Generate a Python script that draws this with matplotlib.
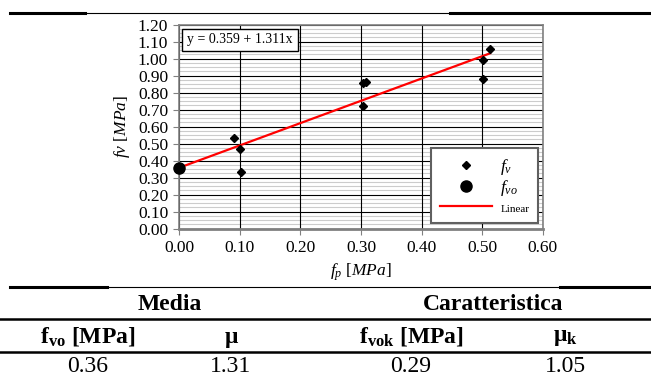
import numpy as np
import matplotlib
matplotlib.use("Agg")
import matplotlib.pyplot as plt
from matplotlib.lines import Line2D
from matplotlib.ticker import MultipleLocator

# data
fp = [0.091, 0.101, 0.102, 0.303, 0.308, 0.303, 0.502, 0.502, 0.513]
fv = [0.532, 0.469, 0.332, 0.855, 0.863, 0.722, 0.990, 0.882, 1.055]
fvo_x = [0.0]
fvo_y = [0.359]
intercept = 0.359
slope = 1.311
fit_range = [0.0, 0.513]

groups = ["Media", "Caratteristica"]
col_heads = [r"f$_{\mathbf{vo}}$ [MPa]", "μ", r"f$_{\mathbf{vok}}$ [MPa]", r"μ$_{\mathbf{k}}$"]
col_values = ["0.36", "1.31", "0.29", "1.05"]

plt.rcParams['font.family'] = ['Liberation Serif', 'DejaVu Serif']
plt.rcParams['mathtext.fontset'] = 'custom'
plt.rcParams['mathtext.rm'] = 'Liberation Serif'
plt.rcParams['mathtext.it'] = 'Liberation Serif:italic'
plt.rcParams['mathtext.bf'] = 'Liberation Serif:bold'

W, H = 651, 378
fig = plt.figure(figsize=(W/100, H/100), dpi=100)
ax = fig.add_axes([179.3/W, 1-228.7/H, 363.4/W, 204/H])

ax.set_xlim(0, 0.6)
ax.set_ylim(0, 1.2)
ax.xaxis.set_major_locator(MultipleLocator(0.1))
ax.yaxis.set_major_locator(MultipleLocator(0.1))
ax.set_axisbelow(True)
ax.grid(True, which='major', color='black', lw=0.8)
# light minor lines under the major grid
for yv in np.arange(0.025, 1.2, 0.025):
    if abs(yv*10 - round(yv*10)) > 1e-6:
        ax.axhline(yv, color='#cccccc', lw=0.8, zorder=0.3)
ax.tick_params(which='major', length=4, color='#808080', labelsize=12.5, pad=4)
ax.xaxis.set_major_formatter(plt.FuncFormatter(lambda v, p: "%.2f" % v))
ax.yaxis.set_major_formatter(plt.FuncFormatter(lambda v, p: "%.2f" % v))
for s in ax.spines.values():
    s.set_color('#808080')
    s.set_linewidth(1.2)
ax.spines['bottom'].set_linewidth(2)

ax.plot(fp, fv, 'D', color='black', ms=4, label=r'$f_v$', zorder=4)
ax.plot(fvo_x, fvo_y, 'o', color='black', ms=8, label=r'$f_{vo}$', zorder=4, clip_on=False)
xx = np.array(fit_range)
ax.plot(xx, intercept + slope*xx, color='red', lw=1.6, label='Linear', zorder=3)

ax.set_xlabel(r'$f_p$ [$\mathit{MPa}$]', fontsize=12.5, labelpad=4)
ax.set_ylabel(r'$fv$ [$\mathit{MPa}$]', fontsize=12.5, labelpad=4)

ax.text(0.013, 1.11, "y = 0.359 + 1.311x", fontsize=10, va='center', ha='left',
        bbox=dict(boxstyle='square,pad=0.35', fc='white', ec='black', lw=1), zorder=5)

leg = ax.legend(loc='lower right', bbox_to_anchor=(0.987, 0.028), borderaxespad=0,
                fontsize=12.5, fancybox=False, framealpha=1, edgecolor='#606060',
                handlelength=3.0, handletextpad=0.5, labelspacing=0.1, borderpad=0.5)
leg.get_frame().set_linewidth(1.5)
leg.texts[2].set_fontsize(8)

# horizontal rules
def hline(y, x0, x1, lw):
    fig.add_artist(Line2D([x0/W, x1/W], [1-y/H, 1-y/H], color='black', lw=lw))

hline(13, 10, 85, 2.2)
hline(13, 85, 450, 0.8)
hline(13, 450, 651, 2.2)
hline(287, 10, 107, 2.2)
hline(287, 107, 560, 0.8)
hline(287, 560, 651, 2.2)
hline(319, 0, 651, 1.8)
hline(352, 0, 651, 1.8)

# table
group_x = [170, 493]
col_x = [88, 231, 411, 565]
for g, x in zip(groups, group_x):
    fig.text(x/W, 1-304/H, g, ha='center', va='center', fontsize=17, fontweight='bold')
for c, x in zip(col_heads, col_x):
    fig.text(x/W, 1-337/H, c, ha='center', va='center', fontsize=17, fontweight='bold')
for v, x in zip(col_values, col_x):
    fig.text(x/W, 1-367/H, v, ha='center', va='center', fontsize=17)

fig.savefig("out.png", dpi=100)
